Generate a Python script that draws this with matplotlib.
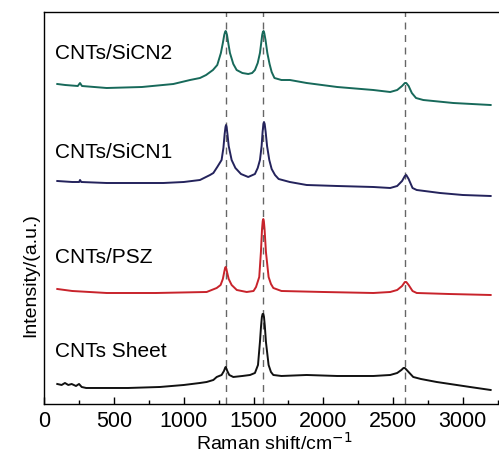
import matplotlib
matplotlib.use("Agg")
import matplotlib.pyplot as plt
from matplotlib.ticker import MultipleLocator

plt.rcParams['font.family'] = ['Liberation Sans', 'DejaVu Sans']

# spectra (offset intensities, a.u.)
sicn2_x = [93, 150, 240, 256, 270, 447, 700, 925, 1045, 1116, 1160, 1209, 1240, 1266, 1280, 1290,
           1296, 1300, 1304, 1310, 1320, 1331, 1355, 1379, 1420, 1462, 1490, 1510, 1530, 1546, 1556,
           1562, 1567, 1572, 1577, 1586, 1599, 1615, 1630, 1650, 1700, 1761, 1881, 2100, 2359, 2480,
           2530, 2565, 2585, 2595, 2612, 2635, 2665, 2717, 2932, 3200]
sicn2_y = [320, 319, 318, 321, 318, 316, 317, 320, 324, 326, 329, 334, 339, 351, 361, 369,
           372, 373, 372, 369, 360, 351, 340, 334, 331, 330, 331, 334, 341, 351, 362,
           369, 372, 373, 371, 364, 351, 340, 332, 326, 324, 324, 321, 317, 314, 312,
           314, 318, 321, 321, 318, 311, 306, 304, 301, 299]

sicn1_x = [93, 200, 250, 256, 265, 447, 853, 1000, 1116, 1188, 1212, 1240, 1271, 1284, 1293, 1299,
           1303, 1307, 1313, 1322, 1343, 1370, 1410, 1462, 1510, 1530, 1546, 1558, 1565, 1571, 1575,
           1580, 1587, 1597, 1613, 1630, 1654, 1680, 1760, 1881, 2100, 2359, 2480, 2530, 2565, 2585,
           2595, 2612, 2640, 2670, 2837, 3000, 3200]
sicn1_y = [223, 222, 222, 224, 222, 221, 221, 222, 224, 229, 231, 237, 244, 256, 270, 277,
           279, 277, 270, 258, 244, 236, 230, 227, 230, 236, 244, 258, 272, 280, 282,
           280, 272, 258, 244, 235, 229, 225, 222, 219, 218, 217, 216, 218, 223, 228,
           229, 225, 216, 214, 211, 209, 208]

psz_x = [93, 200, 447, 800, 1164, 1236, 1264, 1280, 1290, 1296, 1300, 1304, 1310, 1322, 1343, 1380,
         1451, 1500, 1518, 1541, 1553, 1561, 1566, 1570, 1574, 1579, 1589, 1608, 1625, 1642, 1700,
         2000, 2359, 2480, 2530, 2565, 2585, 2595, 2612, 2640, 2670, 2900, 3200]
psz_y = [115, 113, 111, 111, 112, 116, 119, 125, 132, 136, 137, 136, 132, 125, 119, 114,
         112, 113, 117, 127, 152, 175, 183, 185, 183, 175, 152, 127, 120, 116, 113,
         112, 111, 112, 114, 118, 122, 122, 119, 113, 111, 110, 109]

sheet_x = [93, 124, 148, 172, 196, 227, 249, 268, 300, 399, 600, 829, 1000, 1116, 1164, 1212, 1236,
           1271, 1288, 1296, 1300, 1304, 1312, 1326, 1355, 1420, 1475, 1510, 1532, 1546, 1554, 1560,
           1565, 1570, 1575, 1581, 1589, 1608, 1625, 1642, 1700, 1881, 2100, 2359, 2480, 2530, 2560,
           2575, 2585, 2605, 2645, 2700, 2813, 3052, 3200]
sheet_y = [20, 19, 21, 19, 20, 18, 20, 17, 16, 16, 16, 17, 19, 21, 22, 24, 27,
           29, 33, 36, 37, 36, 33, 29, 27, 28, 29, 31, 39, 62, 78, 87,
           90, 90, 87, 78, 62, 39, 32, 29, 28, 29, 28, 28, 29, 31, 34,
           36, 36, 33, 27, 25, 22, 17, 14]

names = ['CNTs/SiCN2', 'CNTs/SiCN1', 'CNTs/PSZ', 'CNTs Sheet']
colors = ['#17695a', '#24235c', '#c8232b', '#111111']
label_y = [351, 251, 146, 52]
band_pos = [1300, 1565, 2588]

series = [(sicn2_x, sicn2_y), (sicn1_x, sicn1_y), (psz_x, psz_y), (sheet_x, sheet_y)]

fig = plt.figure(figsize=(4.99, 4.53), dpi=100)
ax = fig.add_axes([0.0888, 0.1082, 0.921, 0.8653])

for xb in band_pos:
    ax.axvline(xb, color='#666666', lw=1.0, ls=(0, (5, 4)), zorder=1)

for (xs, ys), c in zip(series, colors):
    ax.plot(xs, ys, color=c, lw=1.4, zorder=2, solid_joinstyle='round')

for name, ly in zip(names, label_y):
    ax.text(77, ly, name, fontsize=15, va='center', ha='left')

ax.set_xlim(0, 3295)
ax.set_ylim(0, 392)
ax.set_yticks([])
ax.xaxis.set_major_locator(MultipleLocator(500))
ax.xaxis.set_minor_locator(MultipleLocator(250))
ax.tick_params(axis='x', which='major', direction='in', length=5, width=1, labelsize=15.5, pad=5)
ax.tick_params(axis='x', which='minor', direction='in', length=3, width=1)
for s in ax.spines.values():
    s.set_linewidth(1.0)

ax.set_xlabel('Raman shift/cm$^{-1}$', fontsize=14, labelpad=0)
ax.set_ylabel('Intensity/(a.u.)', fontsize=14)
ax.yaxis.set_label_coords(-0.012, 0.33)

fig.savefig('out.png', dpi=100)
